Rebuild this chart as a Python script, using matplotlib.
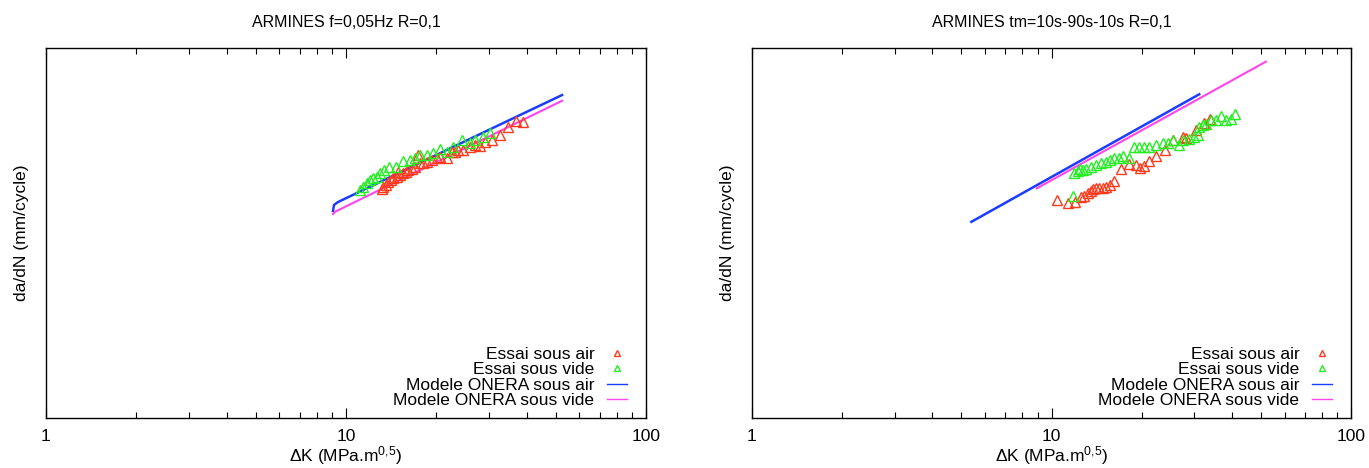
import numpy as np
import matplotlib
matplotlib.use("Agg")
import matplotlib.pyplot as plt
from matplotlib.ticker import LogLocator, NullFormatter, FixedLocator, FixedFormatter

plt.rcParams['font.family'] = ['Liberation Sans', 'DejaVu Sans']
plt.rcParams['mathtext.fontset'] = 'custom'
plt.rcParams['mathtext.rm'] = 'Liberation Sans'
plt.rcParams['mathtext.it'] = 'Liberation Sans:italic'

# ---- panel 1 : f=0,05Hz ----
air1_dk = [13.15, 13.32, 13.59, 13.84, 14.09, 14.38, 14.76, 14.94, 15.14, 15.52,
           15.85, 16.14, 16.56, 16.98, 17.42, 17.65, 18.10, 18.58, 19.30, 20.05,
           20.57, 21.66, 22.50, 23.08, 23.68, 24.60, 25.90, 26.92, 27.97, 29.06,
           30.59, 32.61, 34.75, 36.87, 38.99]
air1_dadn = [2.97e-4, 3.17e-4, 3.30e-4, 3.59e-4, 3.74e-4, 3.90e-4, 4.06e-4, 4.60e-4, 4.24e-4, 4.42e-4,
             4.60e-4, 4.80e-4, 4.88e-4, 5.21e-4, 6.97e-4, 5.66e-4, 5.66e-4, 5.90e-4, 6.15e-4, 6.41e-4,
             6.68e-4, 6.41e-4, 7.57e-4, 7.57e-4, 7.89e-4, 7.89e-4, 8.57e-4, 8.94e-4, 8.72e-4, 9.71e-4,
             1.012e-3, 1.147e-3, 1.41e-3, 1.64e-3, 1.60e-3]
vide1_dk = [11.13, 11.42, 11.72, 12.02, 12.33, 12.66, 12.98, 13.39, 13.95, 14.68,
            15.52, 16.35, 16.98, 17.65, 18.58, 19.54, 20.57, 21.66, 22.79, 24.30,
            25.90, 26.92, 28.55, 30.20]
vide1_dadn = [2.92e-4, 3.17e-4, 3.44e-4, 3.74e-4, 3.90e-4, 4.06e-4, 4.42e-4, 4.80e-4, 5.13e-4, 5.21e-4,
              6.00e-4, 6.15e-4, 6.52e-4, 6.97e-4, 6.97e-4, 7.38e-4, 8.04e-4, 7.57e-4, 8.57e-4, 1.012e-3,
              9.47e-4, 1.012e-3, 1.082e-3, 1.215e-3]
mod_air1_dk = [9.05, 9.12, 9.40, 15.14, 22.2, 32.6, 52.5]
mod_air1_dadn = [1.73e-4, 2.01e-4, 2.16e-4, 4.52e-4, 8.20e-4, 1.486e-3, 3.10e-3]
mod_vide1_dk = [9.05, 9.2, 52.5]
mod_vide1_dadn = [1.60e-4, 1.70e-4, 2.69e-3]

# ---- panel 2 : tm=10s-90s-10s ----
air2_dk = [10.42, 11.34, 12.02, 12.56, 12.88, 13.21, 13.56, 13.80, 14.09, 14.45,
           14.83, 15.21, 15.69, 16.14, 17.07, 18.20, 19.15, 19.81, 20.42, 21.22,
           22.34, 23.99, 25.51, 27.41, 28.12, 30.36, 32.36, 33.81]
air2_dadn = [2.27e-4, 2.09e-4, 2.15e-4, 2.47e-4, 2.53e-4, 2.69e-4, 2.87e-4, 2.97e-4, 3.04e-4, 3.04e-4,
             3.09e-4, 3.17e-4, 3.30e-4, 3.65e-4, 4.88e-4, 5.57e-4, 5.43e-4, 5.00e-4, 5.34e-4, 6.00e-4,
             6.80e-4, 7.89e-4, 1.012e-3, 1.082e-3, 1.055e-3, 1.30e-3, 1.535e-3, 1.695e-3]
vide2_dk = [11.78, 11.93, 12.24, 12.46, 12.72, 13.05, 13.56, 14.09, 14.64, 15.21,
            15.73, 16.22, 16.77, 17.29, 18.20, 18.91, 19.65, 20.42, 21.22, 22.34,
            23.50, 24.42, 25.51, 26.57, 27.41, 28.84, 29.97, 30.75, 31.14, 31.95,
            32.78, 34.06, 35.40, 36.77, 38.21, 39.71, 41.05]
vide2_dadn = [2.51e-4, 4.42e-4, 4.72e-4, 4.88e-4, 4.80e-4, 4.88e-4, 5.13e-4, 5.43e-4, 5.66e-4, 5.86e-4,
              6.15e-4, 6.41e-4, 6.41e-4, 6.80e-4, 6.41e-4, 8.44e-4, 8.44e-4, 8.57e-4, 8.57e-4, 8.94e-4,
              9.32e-4, 9.47e-4, 1.012e-3, 8.94e-4, 1.012e-3, 1.03e-3, 1.082e-3, 1.147e-3, 1.41e-3, 1.47e-3,
              1.51e-3, 1.67e-3, 1.67e-3, 1.84e-3, 1.67e-3, 1.695e-3, 1.93e-3]
mod_air2_dk = [5.40, 31.14]
mod_air2_dadn = [1.32e-4, 3.16e-3]
mod_vide2_dk = [8.93, 51.96]
mod_vide2_dadn = [3.04e-4, 7.11e-3]

titles = ["ARMINES f=0,05Hz R=0,1", "ARMINES tm=10s-90s-10s R=0,1"]
panels = [
    (air1_dk, air1_dadn, vide1_dk, vide1_dadn, mod_air1_dk, mod_air1_dadn, mod_vide1_dk, mod_vide1_dadn),
    (air2_dk, air2_dadn, vide2_dk, vide2_dadn, mod_air2_dk, mod_air2_dadn, mod_vide2_dk, mod_vide2_dadn),
]

red = '#ff3a1a'
green = '#22ee22'
blue = '#1a3cff'
magenta = '#ff44ee'

fig = plt.figure(figsize=(13.69, 4.68), dpi=100)
rects = [[46/1369, 50/468, 600/1369, 370/468], [752/1369, 50/468, 599/1369, 370/468]]

for rect, title, p in zip(rects, titles, panels):
    ax = fig.add_axes(rect)
    a_dk, a_y, v_dk, v_y, ma_dk, ma_y, mv_dk, mv_y = p
    ax.plot(ma_dk, ma_y, color=blue, lw=1.8, label='Modele ONERA sous air', zorder=2)
    ax.plot(mv_dk, mv_y, color=magenta, lw=1.5, label='Modele ONERA sous vide', zorder=3)
    ax.plot(a_dk, a_y, ls='none', marker='^', ms=6.5, mfc='none', mec=red, mew=1.0,
            label='Essai sous air', zorder=4)
    ax.plot(v_dk, v_y, ls='none', marker='^', ms=6.5, mfc='none', mec=green, mew=1.0,
            label='Essai sous vide', zorder=4)
    ax.set_xscale('log')
    ax.set_yscale('log')
    ax.set_xlim(1, 100)
    ax.set_ylim(1e-6, 1e-2)
    ax.xaxis.set_major_locator(FixedLocator([1, 10, 100]))
    ax.xaxis.set_major_formatter(FixedFormatter(['1', '10', '100']))
    ax.xaxis.set_minor_locator(LogLocator(base=10, subs=np.arange(2, 10)))
    ax.xaxis.set_minor_formatter(NullFormatter())
    ax.yaxis.set_major_locator(FixedLocator([]))
    ax.yaxis.set_minor_locator(FixedLocator([]))
    ax.tick_params(axis='x', which='major', direction='in', top=True, length=7, width=0.8,
                   labelsize=12.5, pad=8)
    ax.tick_params(axis='x', which='minor', direction='in', top=True, length=4, width=0.8)
    for s in ax.spines.values():
        s.set_linewidth(1.0)
    ax.set_title(title, fontsize=11.5, pad=15)
    ax.set_xlabel(r'$\Delta$K (MPa.m$^{0{,}5}$)', fontsize=12.5, labelpad=0)
    ax.set_ylabel('da/dN (mm/cycle)', fontsize=12.5, labelpad=12)
    h, l = ax.get_legend_handles_labels()
    order = [2, 3, 0, 1]
    leg = ax.legend([h[i] for i in order], [l[i] for i in order], loc='lower right',
                    frameon=False, markerfirst=False, fontsize=12.5, handlelength=1.2,
                    handletextpad=0.7, labelspacing=0.02, borderaxespad=0.15,
                    bbox_to_anchor=(0.985, 0.0))
    for lh in leg.legend_handles:
        lh.set_markersize(4.5)
        lh.set_linewidth(1.0)

fig.savefig('out.png', dpi=100)
